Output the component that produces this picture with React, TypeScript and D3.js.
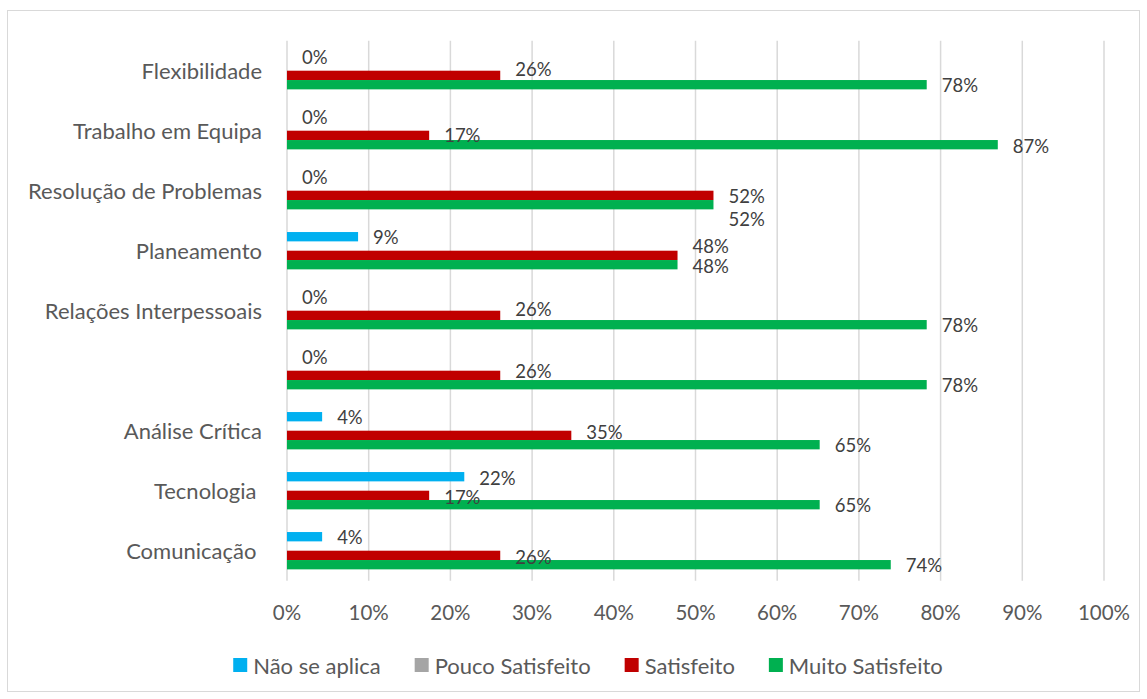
import React, { useMemo } from 'react';
import * as d3 from 'd3';

const categories = [
  'Flexibilidade',
  'Trabalho em Equipa',
  'Resolução de Problemas',
  'Planeamento',
  'Relações Interpessoais',
  '',
  'Análise Crítica',
  'Tecnologia ',
  'Comunicação ',
];
const seriesNames = ['Não se aplica', 'Pouco Satisfeito', 'Satisfeito', 'Muito Satisfeito'];
const naoSeAplica = [0, 0, 0, 0.087, 0, 0, 0.043, 0.217, 0.043];
const poucoSatisfeito = [0, 0, 0, 0, 0, 0, 0, 0, 0];
const satisfeito = [0.261, 0.174, 0.522, 0.478, 0.261, 0.261, 0.348, 0.174, 0.261];
const muitoSatisfeito = [0.783, 0.87, 0.522, 0.478, 0.783, 0.783, 0.652, 0.652, 0.739];
const tickValues = [0, 0.1, 0.2, 0.3, 0.4, 0.5, 0.6, 0.7, 0.8, 0.9, 1];

// styling
const seriesColors = ['#00B0F0', '#A5A5A5', '#C00000', '#00B050'];
const showLabels = [true, false, true, true];
// vertical nudges (px) applied to data labels to mimic the reference's label placement
const labelNudge = [
  [0, 0, -6, 0],
  [0, 0, 0, 1],
  [0, 0, 1, 14],
  [0, 0, -9.5, 1],
  [0, 0, -6, 0],
  [0, 0, -4, 0],
  [0, 0, -3, 0],
  [1.5, 0, 2, 0],
  [0, 0, 1.5, 0],
];

const W = 1147;
const H = 699;
const FONT = 'Lato, "Open Sans", sans-serif';
const plot = { left: 287, right: 1104, top: 40.7, bottom: 580.7 };

function measure(text: string, size: number) {
  const c = document.createElement('canvas');
  const ctx = c.getContext('2d')!;
  ctx.font = `${size}px Lato`;
  return ctx.measureText(text).width;
}

export default function App() {
  const series = [naoSeAplica, poucoSatisfeito, satisfeito, muitoSatisfeito];
  const x = d3.scaleLinear().domain([0, 1]).range([plot.left, plot.right]);
  const y = d3
    .scaleBand<number>()
    .domain(d3.range(categories.length))
    .range([plot.top, plot.bottom])
    .paddingInner(0.378)
    .paddingOuter(0.189);
  const inner = d3
    .scaleBand<number>()
    .domain(d3.range(seriesNames.length))
    .range([0, y.bandwidth()]);
  const fmt = d3.format('.0%');

  const legendSize = 22;
  const legend = useMemo(() => {
    const sq = 14;
    const gapText = 6;
    const gapItem = 34;
    const widths = seriesNames.map((n) => measure(n, legendSize));
    const total = widths.reduce((a, w) => a + sq + gapText + w, 0) + gapItem * (seriesNames.length - 1);
    let cx = 588 - total / 2;
    return seriesNames.map((n, i) => {
      const item = { name: n, x: cx, color: seriesColors[i] };
      cx += sq + gapText + widths[i] + gapItem;
      return item;
    });
  }, []);

  return (
    <div style={{ position: 'absolute', left: 0, top: 0 }}>
      <svg width={W} height={H} style={{ display: 'block', background: '#fff' }}>
        <rect x={7.5} y={10.5} width={1132} height={681} fill="#fff" stroke="#d9d9d9" strokeWidth={1} />
        {tickValues.map((t) => (
          <g key={t}>
            <line x1={x(t)} x2={x(t)} y1={plot.top} y2={plot.bottom} stroke="#d9d9d9" strokeWidth={1.5} />
            <text
              x={x(t)}
              y={612}
              textAnchor="middle"
              dominantBaseline="central"
              fontFamily={FONT}
              fontSize={20.5}
              fill="#595959"
            >
              {fmt(t)}
            </text>
          </g>
        ))}
        {categories.map((c, i) => (
          <text
            key={'c' + i}
            x={262}
            y={(y(i) as number) + y.bandwidth() / 2}
            textAnchor="end"
            dominantBaseline="central"
            fontFamily={FONT}
            fontSize={22}
            fill="#595959"
            style={{ whiteSpace: 'pre' }}
          >
            {c}
          </text>
        ))}
        {series.map((vals, s) =>
          vals.map((v, i) => {
            const by = (y(i) as number) + (inner(s) as number);
            return (
              <rect
                key={`b${s}-${i}`}
                x={x(0)}
                y={by}
                width={x(v) - x(0)}
                height={inner.bandwidth()}
                fill={seriesColors[s]}
              />
            );
          })
        )}
        {series.map((vals, s) =>
          showLabels[s]
            ? vals.map((v, i) => {
                const by = (y(i) as number) + (inner(s) as number) + inner.bandwidth() / 2;
                return (
                  <text
                    key={`l${s}-${i}`}
                    x={x(v) + 15}
                    y={by + labelNudge[i][s]}
                    dominantBaseline="central"
                    fontFamily={FONT}
                    fontSize={18.5}
                    fill="#404040"
                  >
                    {fmt(v)}
                  </text>
                );
              })
            : null
        )}
        {legend.map((l) => (
          <g key={l.name}>
            <rect x={l.x} y={658} width={14} height={14} fill={l.color} />
            <text
              x={l.x + 20}
              y={665}
              dominantBaseline="central"
              fontFamily={FONT}
              fontSize={legendSize}
              fill="#595959"
            >
              {l.name}
            </text>
          </g>
        ))}
      </svg>
    </div>
  );
}
